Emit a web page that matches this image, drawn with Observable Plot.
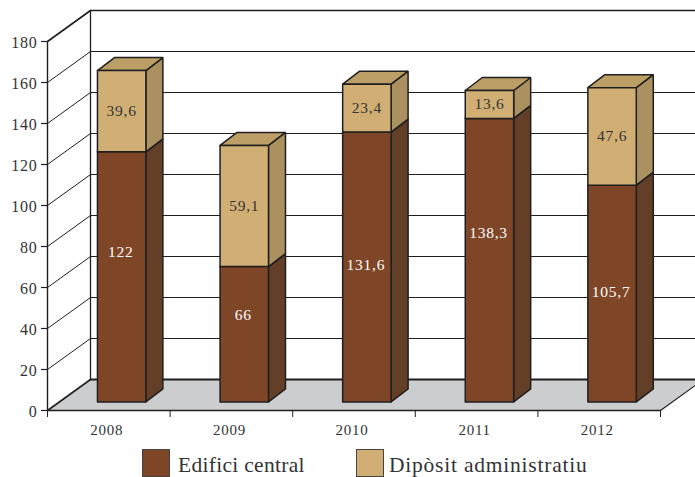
<!DOCTYPE html>
<html><head><meta charset="utf-8">
<script src="https://cdn.jsdelivr.net/npm/d3@7"></script>
<script src="https://cdn.jsdelivr.net/npm/@observablehq/plot@0.6"></script>
<style>
html,body{margin:0;padding:0;background:#fff;overflow:hidden}
svg text{letter-spacing:.75px}
#legend{position:relative;height:32px;font-family:"Liberation Serif",serif;font-size:21.5px;color:#333}
#legend span{position:absolute;white-space:nowrap}
#legend i{position:absolute;top:4px;width:28px;height:28px;border:1px solid #444;box-sizing:border-box}
</style></head><body>
<div id="chart"></div>
<div id="legend"></div>
<script>
const years = [2008, 2009, 2010, 2011, 2012];
const edifici = [122, 66, 131.6, 138.3, 105.7];
const diposit = [39.6, 59.1, 23.4, 13.6, 47.6];
const yTicks = [0, 20, 40, 60, 80, 100, 120, 140, 160, 180];
const seriesNames = ["Edifici central", "Dipòsit administratiu"];

const ink = "#1f1f1f";
const brown = {front: "#7f4527", top: "#7f4527", side: "#643f27"};
const tan = {front: "#d1af74", top: "#bc9f66", side: "#ab9160"};

// oblique projection expressed in scale units
const pxY = 2.05, pxX = 122.6;
const wallDx = 43 / pxX, wallDy = 31 / pxY;
const barW = 0.395, barOff = 0.105, barBase = 4.2, barDx = 17 / pxX, barDy = 6.34;
const xEnd = 5;
// the reference places some brown labels above their segment's middle (pixels)
const brownLift = [25, 19, 2, 27, 2];

const poly = (pts, o) => Plot.line([...pts, pts[0]], {x: d => d[0], y: d => d[1], strokeLinejoin: "miter", ...o});
const seg = (pts, o) => Plot.line(pts, {x: d => d[0], y: d => d[1], stroke: ink, ...o});

const wall = [];
for (const v of yTicks) {
  if (v === 0) continue;
  const strong = v === 180;
  wall.push(seg([[0, v], [wallDx, v + wallDy], [xEnd + wallDx, v + wallDy]], {strokeWidth: strong ? 1.6 : 1}));
}
wall.push(seg([[wallDx, wallDy], [wallDx, 180 + wallDy]], {strokeWidth: 1.3}));
wall.push(seg([[0, 0], [0, 180]], {strokeWidth: 1.4}));

const floor = [
  poly([[0, 0], [xEnd, 0], [xEnd + wallDx, wallDy], [wallDx, wallDy]], {fill: "#cccdcf", stroke: "none"}),
  seg([[wallDx, wallDy], [xEnd + wallDx, wallDy]], {strokeWidth: 1.8}),
  seg([[0, 0], [wallDx, wallDy]], {strokeWidth: 1.6}),
  seg([[xEnd, 0], [xEnd + wallDx, wallDy]], {strokeWidth: 1.2}),
  seg([[0, 0], [xEnd, 0]], {strokeWidth: 1.4})
];

function box(i, from, to, c) {
  const x0 = i + 0.5 - barW / 2 + barOff, x1 = x0 + barW;
  const y0 = from + barBase, y1 = to + barBase;
  const o = {stroke: ink, strokeWidth: 1.5};
  return [
    poly([[x1, y0], [x1 + barDx, y0 + barDy], [x1 + barDx, y1 + barDy], [x1, y1]], {fill: c.side, ...o}),
    poly([[x0, y1], [x1, y1], [x1 + barDx, y1 + barDy], [x0 + barDx, y1 + barDy]], {fill: c.top, ...o}),
    poly([[x0, y0], [x1, y0], [x1, y1], [x0, y1]], {fill: c.front, ...o})
  ];
}
const bars = years.flatMap((_, i) => [
  ...box(i, 0, edifici[i], brown),
  ...box(i, edifici[i], edifici[i] + diposit[i], tan)
]);

const fmt = v => String(v).replace(".", ",");
const labelX = i => i + 0.5 + barOff;
const font = {fontFamily: "Liberation Serif, serif", fontSize: 15.5};

const svg = Plot.plot({
  width: 695, height: 445,
  marginLeft: 47, marginBottom: 35, marginTop: 0, marginRight: 0,
  style: {fontFamily: "Liberation Serif, serif", background: "#fff", overflow: "hidden"},
  x: {type: "linear", domain: [0, 5], range: [47, 660], axis: null},
  y: {type: "linear", domain: [0, 180], range: [410, 41], axis: null},
  marks: [
    ...wall,
    ...floor,
    ...bars,
    Plot.ruleY(yTicks, {x1: -6 / pxX, x2: 0, stroke: ink, strokeWidth: 1.2}),
    Plot.axisY({ticks: yTicks, tickSize: 0, tickPadding: 10, dy: 1, label: null, fontSize: 16, color: "#333"}),
    Plot.ruleX(d3.range(0, 6), {y1: 0, y2: -7 / pxY, stroke: ink, strokeWidth: 1}),
    Plot.text(years, {x: (d, i) => i + 0.5, y: 0, dx: -2, dy: 20, text: d => String(d), fill: "#333", ...font, fontSize: 15}),
    Plot.text(edifici, {x: (d, i) => labelX(i), y: (d, i) => d / 2 + barBase + brownLift[i] / pxY, dx: -1, text: fmt, fill: "#fff", ...font}),
    Plot.text(diposit, {x: (d, i) => labelX(i), y: (d, i) => edifici[i] + d / 2 + barBase, dx: 0, text: fmt, fill: "#333", ...font})
  ]
});
document.getElementById("chart").appendChild(svg);
svg.style.display = "block";

const lg = document.getElementById("legend");
[[142, 178, brown.front, .3], [356, 389, tan.front, .78]].forEach(([sx, tx, col, ls], i) => {
  const sw = document.createElement("i");
  sw.style.left = sx + "px"; sw.style.background = col;
  const t = document.createElement("span");
  t.style.left = tx + "px"; t.style.top = "8px"; t.style.letterSpacing = ls + "px"; t.textContent = seriesNames[i];
  lg.append(sw, t);
});
</script>
</body></html>
